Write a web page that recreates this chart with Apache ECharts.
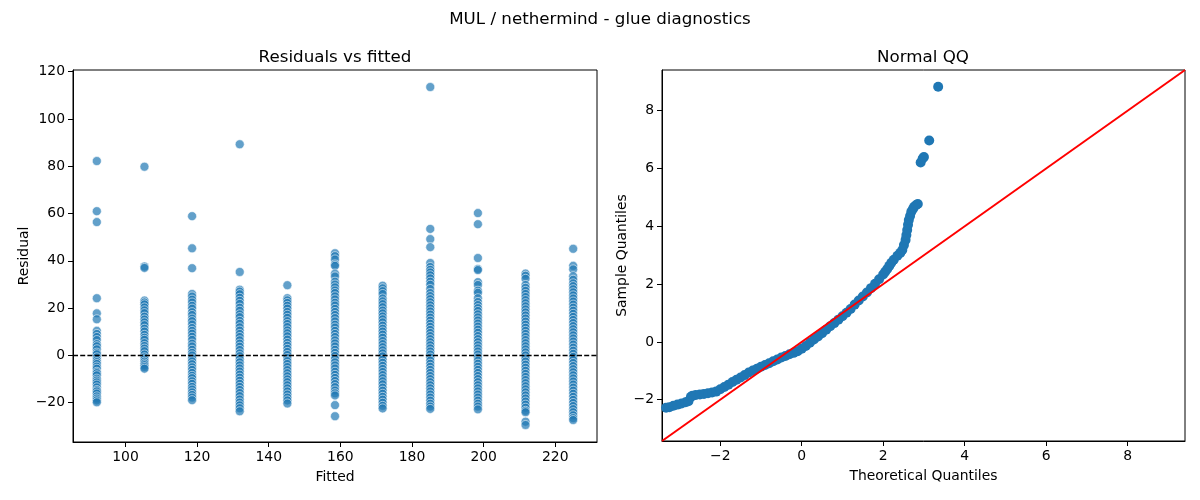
<!DOCTYPE html>
<html>
<head>
    <meta http-equiv="content-type" content="text/html; charset=utf-8">
    <title>MUL / nethermind - glue diagnostics</title>
    <script src="https://cdn.jsdelivr.net/npm/echarts@6.0.0/dist/echarts.min.js"></script>
    <style>
        body { margin: 0; background: #fff; }
        #chart { width: 1200px; height: 500px; }
    </style>
</head>
<body>
    <div id="chart"></div>
    <script type="text/javascript">
        // fitted levels (x of each column) and the residuals
        var fittedLevels = [92, 105.3, 118.6, 131.9, 145.2, 158.5, 171.8, 185.1, 198.4, 211.7, 225];
        var residuals = [
            [82.2, 61.0, 56.4, 24.2, 17.8, 15.3, 10.4, 9.1, 7.8, 6.5, 4.8, 3.9, 2.6, 1.2, 0.5, -0.8, -1.9, -2.8, -3.6, -4.7, -5.6, -6.9, -7.5, -8.4, -9.8, -10.6, -11.4, -12.3, -13.5, -14.6, -15.2, -16.1, -17.3, -18.2, -19.0, -19.8],
            [79.8, 37.6, 37.0, 23.2, 22.4, 21.6, 20.3, 19.1, 17.9, 16.4, 15.2, 14.0, 12.8, 11.3, 10.1, 8.7, 7.5, 6.6, 5.2, 4.0, 2.9, 1.8, 0.4, -0.8, -1.7, -2.6, -3.4, -4.1, -4.9, -5.6],
            [58.9, 45.3, 36.9, 26.0, 24.9, 23.6, 22.4, 21.0, 19.8, 18.3, 17.1, 15.6, 14.5, 13.1, 11.6, 10.4, 9.2, 7.9, 6.6, 5.0, 3.8, 2.4, 1.1, 0.0, -1.3, -2.5, -3.7, -5.0, -6.1, -7.4, -8.6, -9.6, -10.9, -12.0, -13.3, -14.4, -15.6, -16.7, -17.8, -18.9],
            [89.3, 35.3, 27.8, 27.0, 25.9, 24.4, 23.1, 21.8, 20.2, 18.9, 17.4, 16.2, 14.6, 13.4, 11.9, 10.5, 9.1, 7.8, 6.4, 5.0, 3.7, 2.3, 0.9, -0.3, -1.6, -2.9, -4.2, -5.5, -6.8, -8.1, -9.4, -10.7, -12.0, -13.3, -14.6, -15.9, -17.2, -18.6, -19.9, -21.1, -22.3, -23.6],
            [29.7, 24.2, 23.3, 22.2, 21.0, 19.8, 18.4, 17.2, 15.9, 14.5, 13.3, 12.0, 10.6, 9.4, 8.1, 6.7, 5.3, 4.1, 2.8, 1.5, 0.2, -1.1, -2.4, -3.6, -4.9, -6.2, -7.5, -8.8, -10.1, -11.3, -12.6, -13.9, -15.2, -16.5, -17.8, -19.0, -20.3],
            [43.2, 42.0, 40.6, 38.5, 37.9, 34.6, 33.4, 31.2, 30.0, 28.8, 27.5, 26.4, 25.0, 23.7, 22.3, 21.1, 19.7, 18.4, 17.1, 15.8, 14.4, 13.0, 11.8, 10.4, 9.1, 7.8, 6.4, 5.1, 3.8, 2.4, 1.1, -0.2, -1.5, -2.9, -4.2, -5.5, -6.9, -8.2, -9.5, -10.8, -12.1, -13.4, -14.8, -16.0, -16.9, -21.0, -25.7],
            [29.5, 28.4, 27.2, 26.0, 24.1, 22.9, 21.7, 20.4, 19.0, 17.8, 16.5, 15.3, 14.0, 12.6, 11.3, 10.1, 8.8, 7.5, 6.1, 4.8, 3.5, 2.2, 0.9, -0.4, -1.8, -3.1, -4.4, -5.7, -7.0, -8.3, -9.6, -10.9, -12.2, -13.6, -14.9, -16.2, -17.5, -18.7, -20.0, -21.3, -22.4],
            [113.5, 53.5, 49.2, 45.8, 39.1, 37.4, 36.2, 35.1, 33.9, 32.6, 31.2, 29.9, 28.1, 26.4, 25.1, 23.8, 22.5, 21.2, 19.9, 18.6, 17.3, 16.0, 14.7, 13.4, 12.1, 10.8, 9.5, 8.2, 6.9, 5.6, 4.3, 3.0, 1.7, 0.4, -0.9, -2.2, -3.5, -4.8, -6.1, -7.4, -8.7, -10.0, -11.3, -12.6, -13.9, -15.2, -16.5, -17.8, -19.1, -20.4, -21.6, -22.6],
            [60.2, 55.5, 41.2, 36.6, 36.1, 31.0, 29.8, 27.4, 26.5, 24.2, 22.6, 21.3, 20.0, 18.8, 17.4, 16.1, 14.8, 13.5, 12.2, 10.9, 9.6, 8.2, 6.9, 5.6, 4.3, 3.0, 1.7, 0.4, -0.9, -2.2, -3.5, -4.8, -6.1, -7.4, -8.7, -10.0, -11.3, -12.6, -13.9, -15.2, -16.5, -17.8, -19.1, -20.4, -21.6, -22.8],
            [34.6, 33.7, 32.4, 29.8, 28.6, 27.3, 26.0, 24.7, 23.4, 22.1, 20.8, 19.5, 18.2, 16.9, 15.6, 14.3, 13.0, 11.7, 10.4, 9.1, 7.8, 6.5, 5.2, 3.9, 2.6, 1.3, 0.0, -1.3, -2.6, -3.9, -5.2, -6.5, -7.8, -9.1, -10.4, -11.7, -13.0, -14.3, -15.6, -16.9, -18.2, -19.5, -20.8, -22.1, -23.4, -24.0, -28.0, -29.4],
            [45.1, 37.9, 36.4, 33.5, 32.0, 30.5, 29.3, 28.0, 26.7, 25.4, 24.1, 22.8, 21.5, 20.2, 18.9, 17.6, 16.3, 15.0, 13.7, 12.4, 11.1, 9.8, 8.5, 7.2, 5.9, 4.6, 3.3, 2.0, 0.7, -0.6, -1.9, -3.2, -4.5, -5.8, -7.1, -8.4, -9.7, -11.0, -12.3, -13.6, -14.9, -16.2, -17.5, -18.8, -20.1, -21.4, -22.7, -24.0, -25.3, -26.5, -27.3]
        ];
        var residTicksX = [100, 120, 140, 160, 180, 200, 220];
        var residTicksY = [-20, 0, 20, 40, 60, 80, 100, 120];

        // normal QQ points
        var qqTheo = [-3.33, -3.25, -3.15, -3.05, -2.95, -2.85, -2.78, -2.72, -2.68, -2.6, -2.5, -2.4, -2.3, -2.2, -2.1, -2.0, -1.9, -1.8, -1.7, -1.6, -1.5, -1.4, -1.3, -1.2, -1.1, -1.0, -0.9, -0.8, -0.7, -0.6, -0.5, -0.4, -0.3, -0.2, -0.1, 0.0, 0.1, 0.2, 0.3, 0.4, 0.5, 0.6, 0.7, 0.8, 0.9, 1.0, 1.1, 1.2, 1.3, 1.4, 1.5, 1.6, 1.7, 1.8, 1.9, 2.0, 2.05, 2.1, 2.15, 2.2, 2.26, 2.35, 2.42, 2.47, 2.51, 2.55, 2.57, 2.59, 2.61, 2.63, 2.66, 2.69, 2.73, 2.76, 2.81, 2.85, 2.92, 2.97, 3.00, 3.13, 3.35];
        var qqSample = [-2.28, -2.26, -2.21, -2.17, -2.13, -2.09, -2.05, -1.90, -1.86, -1.84, -1.82, -1.80, -1.78, -1.75, -1.72, -1.64, -1.56, -1.48, -1.39, -1.31, -1.23, -1.15, -1.06, -0.99, -0.93, -0.86, -0.80, -0.74, -0.67, -0.61, -0.54, -0.49, -0.43, -0.38, -0.32, -0.24, -0.14, -0.03, 0.08, 0.19, 0.30, 0.42, 0.54, 0.65, 0.77, 0.89, 1.01, 1.14, 1.29, 1.43, 1.57, 1.71, 1.86, 2.01, 2.17, 2.33, 2.43, 2.52, 2.63, 2.74, 2.84, 2.98, 3.08, 3.18, 3.35, 3.53, 3.70, 3.87, 4.05, 4.22, 4.36, 4.50, 4.60, 4.68, 4.74, 4.77, 6.21, 6.35, 6.40, 6.97, 8.83];
        var qqLimits = [-3.43, 9.41];
        var qqTicks = [-2, 0, 2, 4, 6, 8];

        var font = 'DejaVu Sans';
        function minus(v) { return String(v).replace('-', '\u2212'); }

        var residPoints = [];
        for (var i = 0; i < fittedLevels.length; i++) {
            for (var j = 0; j < residuals[i].length; j++) {
                residPoints.push([fittedLevels[i], residuals[i][j]]);
            }
        }
        var qqPoints = [];
        for (var k = 0; k < qqTheo.length; k++) {
            qqPoints.push([qqTheo[k], qqSample[k]]);
        }

        function valueAxis(grid, min, max, ticks, name, gap) {
            return {
                type: 'value', gridIndex: grid, min: min, max: max,
                name: name, nameLocation: 'middle', nameGap: gap,
                nameTextStyle: { fontFamily: font, fontSize: 13.9, color: '#000' },
                splitLine: { show: false },
                axisLine: { show: true, onZero: false, lineStyle: { color: '#000', width: 1 } },
                axisTick: { show: true, inside: false, length: 5, customValues: ticks, lineStyle: { color: '#000', width: 1 } },
                axisLabel: { customValues: ticks, margin: 8, fontFamily: font, fontSize: 13.9, color: '#000', formatter: minus }
            };
        }

        var chart = echarts.init(document.getElementById('chart'));
        chart.setOption({
            animation: false,
            backgroundColor: '#fff',
            title: [
                { text: 'MUL / nethermind - glue diagnostics', left: 600, top: 11, textAlign: 'center', padding: 0,
                  textStyle: { fontFamily: font, fontSize: 16.7, fontWeight: 'normal', color: '#000' } },
                { text: 'Residuals vs fitted', left: 335, top: 49, textAlign: 'center', padding: 0,
                  textStyle: { fontFamily: font, fontSize: 16.7, fontWeight: 'normal', color: '#000' } },
                { text: 'Normal QQ', left: 923, top: 49, textAlign: 'center', padding: 0,
                  textStyle: { fontFamily: font, fontSize: 16.7, fontWeight: 'normal', color: '#000' } }
            ],
            grid: [
                { left: 73, top: 70, width: 524, height: 372, show: true, borderColor: '#000', borderWidth: 1, backgroundColor: 'transparent' },
                { left: 662, top: 70, width: 523, height: 371, show: true, borderColor: '#000', borderWidth: 1, backgroundColor: 'transparent' }
            ],
            xAxis: [
                valueAxis(0, 85.35, 231.65, residTicksX, 'Fitted', 28),
                valueAxis(1, qqLimits[0], qqLimits[1], qqTicks, 'Theoretical Quantiles', 28)
            ],
            yAxis: [
                valueAxis(0, -36.6, 120.7, residTicksY, 'Residual', 42),
                valueAxis(1, qqLimits[0], qqLimits[1], qqTicks, 'Sample Quantiles', 33)
            ],
            series: [
                {
                    type: 'scatter', xAxisIndex: 0, yAxisIndex: 0, data: residPoints,
                    symbolSize: 9,
                    itemStyle: { color: '#1f77b4', opacity: 0.7, borderColor: '#fff', borderWidth: 0.8 }
                },
                {
                    type: 'line', xAxisIndex: 0, yAxisIndex: 0, data: [], z: 5,
                    markLine: {
                        silent: true, symbol: 'none', label: { show: false },
                        lineStyle: { color: '#000', width: 1.3, type: [5, 2.2] },
                        data: [{ yAxis: 0 }]
                    }
                },
                {
                    type: 'scatter', xAxisIndex: 1, yAxisIndex: 1, data: qqPoints,
                    symbolSize: 10,
                    itemStyle: { color: '#1f77b4', opacity: 1 }
                },
                {
                    type: 'line', xAxisIndex: 1, yAxisIndex: 1, z: 5,
                    data: [[qqLimits[0], qqLimits[0]], [qqLimits[1], qqLimits[1]]],
                    symbol: 'none', lineStyle: { color: '#ff0000', width: 2 }
                }
            ]
        });
    </script>
</body>
</html>
